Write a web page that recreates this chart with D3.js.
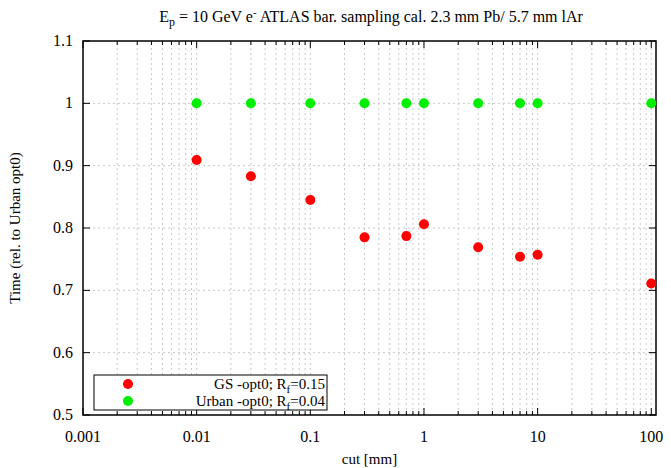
<!DOCTYPE html>
<html>
<head>
<meta charset="utf-8">
<script src="https://cdn.jsdelivr.net/npm/d3@7"></script>
<style>
  body { margin: 0; background: #fff; }
  text { font-family: "Liberation Serif", "DejaVu Serif", serif; fill: #000; }
</style>
</head>
<body>
<div id="chart"></div>
<script>
const cuts = [0.01, 0.03, 0.1, 0.3, 0.7, 1, 3, 7, 10, 100]
const gsTime = [0.909, 0.883, 0.845, 0.785, 0.787, 0.806, 0.769, 0.754, 0.757, 0.711]
const urbanTime = [1, 1, 1, 1, 1, 1, 1, 1, 1, 1]
const xMajor = [0.001, 0.01, 0.1, 1, 10, 100]
const xMajorLabels = ["0.001", "0.01", "0.1", "1", "10", "100"]
const yTicks = [0.5, 0.6, 0.7, 0.8, 0.9, 1, 1.1]
const yLabels = ["0.5", "0.6", "0.7", "0.8", "0.9", "1", "1.1"]

let width = 671
let height = 468
const margin = { top: 41, right: 15, bottom: 53, left: 83 }

const svg = d3.select("#chart").append("svg")
    .attr("width", width).attr("height", height)

const x = d3.scaleLog().domain([0.001, 110]).range([margin.left, width - margin.right])
const y = d3.scaleLinear().domain([0.5, 1.1]).range([height - margin.bottom, margin.top])

// minor ticks for every decade
let xMinor = []
xMajor.forEach(m => { for (let k = 2; k <= 9; k++) if (m * k <= 110) xMinor.push(m * k) })

const x0 = x.range()[0], x1 = x.range()[1]
const y0 = y.range()[0], y1 = y.range()[1]

// grid
const grid = svg.append("g").attr("stroke", "#c8c8c8").attr("stroke-width", 1).attr("stroke-dasharray", "2,3")
grid.selectAll(".gx").data(xMajor.slice(1).concat(xMinor))
    .join("line").attr("x1", d => x(d)).attr("x2", d => x(d)).attr("y1", y0).attr("y2", y1)
grid.selectAll(".gy").data(yTicks.slice(1, -1))
    .join("line").attr("x1", x0).attr("x2", x1).attr("y1", d => y(d)).attr("y2", d => y(d))

// ticks (inward, on all four sides)
const ticks = svg.append("g").attr("stroke", "#000").attr("stroke-width", 1)
ticks.selectAll(".tb").data(xMajor).join("line")
    .attr("x1", d => x(d)).attr("x2", d => x(d)).attr("y1", y0).attr("y2", y0 - 7)
ticks.selectAll(".tt").data(xMajor).join("line")
    .attr("x1", d => x(d)).attr("x2", d => x(d)).attr("y1", y1).attr("y2", y1 + 7)
ticks.selectAll(".mb").data(xMinor).join("line")
    .attr("x1", d => x(d)).attr("x2", d => x(d)).attr("y1", y0).attr("y2", y0 - 4)
ticks.selectAll(".mt").data(xMinor).join("line")
    .attr("x1", d => x(d)).attr("x2", d => x(d)).attr("y1", y1).attr("y2", y1 + 4)
ticks.selectAll(".yl").data(yTicks).join("line")
    .attr("x1", x0).attr("x2", x0 + 7).attr("y1", d => y(d)).attr("y2", d => y(d))
ticks.selectAll(".yr").data(yTicks).join("line")
    .attr("x1", x1).attr("x2", x1 - 7).attr("y1", d => y(d)).attr("y2", d => y(d))

// frame
svg.append("rect").attr("x", x0).attr("y", y1).attr("width", x1 - x0).attr("height", y0 - y1)
    .attr("fill", "none").attr("stroke", "#000").attr("stroke-width", 1.5)

// tick labels
svg.selectAll(".xl").data(xMajor).join("text")
    .attr("x", d => x(d)).attr("y", y0 + 27)
    .attr("text-anchor", "middle").style("font-size", "16px")
    .text((d, i) => xMajorLabels[i])
svg.selectAll(".ylab").data(yTicks).join("text")
    .attr("x", x0 - 10).attr("y", d => y(d) + 5)
    .attr("text-anchor", "end").style("font-size", "16px")
    .text((d, i) => yLabels[i])

// axis titles
svg.append("text").attr("x", (x0 + x1) / 2).attr("y", height - 4)
    .attr("text-anchor", "middle").style("font-size", "15px").text("cut [mm]")
svg.append("text").attr("transform", `translate(20,${(y0 + y1) / 2}) rotate(-90)`)
    .attr("text-anchor", "middle").style("font-size", "15px").text("Time (rel. to Urban opt0)")

// title
const title = svg.append("text").attr("x", 371).attr("y", 22)
    .attr("text-anchor", "middle").style("font-size", "16px")
title.append("tspan").text("E")
title.append("tspan").attr("dy", 4).style("font-size", "12px").text("p")
title.append("tspan").attr("dy", -4).text(" = 10 GeV e")
title.append("tspan").attr("dy", -6).style("font-size", "11px").text("-")
title.append("tspan").attr("dy", 6).text(" ATLAS bar. sampling cal. 2.3 mm Pb/ 5.7 mm lAr")

// points
svg.append("g").selectAll("circle").data(cuts).join("circle")
    .attr("cx", d => x(d)).attr("cy", (d, i) => y(urbanTime[i])).attr("r", 5)
    .attr("fill", "#00ee00")
svg.append("g").selectAll("circle").data(cuts).join("circle")
    .attr("cx", d => x(d)).attr("cy", (d, i) => y(gsTime[i])).attr("r", 5)
    .attr("fill", "#ff0000")

// legend
const lg = svg.append("g")
lg.append("rect").attr("x", 94).attr("y", 375).attr("width", 233).attr("height", 35)
    .attr("fill", "#fff").attr("stroke", "#000").attr("stroke-width", 1)
const legendItems = [
    { name: "GS -opt0; R", sub: "f", val: "=0.15", color: "#ff0000" },
    { name: "Urban -opt0; R", sub: "f", val: "=0.04", color: "#00ee00" }
]
legendItems.forEach((it, i) => {
    const yy = 384 + i * 17
    lg.append("circle").attr("cx", 128).attr("cy", yy).attr("r", 5).attr("fill", it.color)
    const t = lg.append("text").attr("x", 325).attr("y", yy + 5)
        .attr("text-anchor", "end").style("font-size", "15px")
    t.append("tspan").text(it.name)
    t.append("tspan").attr("dy", 4).style("font-size", "11px").text(it.sub)
    t.append("tspan").attr("dy", -4).text(it.val)
})
</script>
</body>
</html>
